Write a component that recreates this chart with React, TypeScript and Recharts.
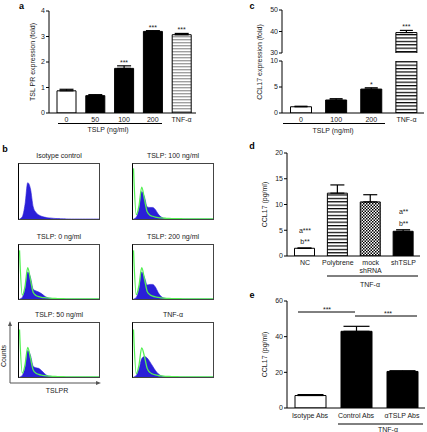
import {
  Area,
  Bar,
  Cell,
  ComposedChart,
  ErrorBar,
  LabelList,
  Line,
  XAxis,
  YAxis,
} from 'recharts';

// panel a: TSLPR expression (fold)
const aCategories = ['0', '50', '100', '200', 'TNF-α'];
const aValues = [0.87, 0.68, 1.75, 3.2, 3.07];
const aErrors = [0.06, 0.04, 0.1, 0.03, 0.05];
const aStars = ['', '', '***', '***', '***'];

// panel c: CCL17 expression (fold), broken axis
const cCategories = ['0', '100', '200', 'TNF-α'];
const cValues = [1.2, 2.5, 4.6, 39.5];
const cErrors = [0.1, 0.25, 0.25, 1.0];
const cStars = ['', '', '*', '***'];

// panel d: CCL17 (pg/ml), shRNA
const dCategories = ['NC', 'Polybrene', 'mock\nshRNA', 'shTSLP'];
const dValues = [1.5, 12.2, 10.5, 4.8];
const dErrors = [0.05, 1.6, 1.4, 0.3];
const dNotes = ['a***\nb**', '', '', 'a**\nb**'];

// panel e: CCL17 (pg/ml), antibodies
const eCategories = ['Isotype Abs', 'Control Abs', 'αTSLP Abs'];
const eValues = [7, 43, 20.5];
const eErrors = [0.5, 2.8, 0.4];
const eNotes = ['', '', ''];

// panel b: flow histograms (counts per channel bin)
const isoBlue = [0, 4, 26, 66, 55, 22, 12, 7.5, 5, 3.5, 2.5, 2, 1.5, 1, 0.7, 0.5, 0.3, 0.2, 0.1, 0, 0, 0, 0, 0, 0, 0, 0, 0, 0, 0];
const ng0Blue = [0, 3, 18, 50, 40, 18, 15, 13, 10, 6, 3, 1.5, 0.8, 0.4, 0.2, 0, 0, 0, 0, 0, 0, 0, 0, 0, 0, 0, 0, 0, 0, 0];
const ng0Green = [90, 7, 23, 58, 36, 12, 6.5, 4.5, 3.2, 2.4, 1.9, 1.5, 1.2, 1, 0.8, 0.6, 0.5, 0.4, 0.3, 0.2, 0.1, 0, 0, 0, 0, 0, 0, 0, 0, 0];
const ng50Blue = [0, 3, 17, 49, 40, 20, 17, 16, 12, 7, 3, 1.5, 0.8, 0.4, 0.2, 0, 0, 0, 0, 0, 0, 0, 0, 0, 0, 0, 0, 0, 0, 0];
const ng50Green = [88, 7, 22, 55, 35, 13, 7, 4.8, 3.4, 2.5, 2, 1.6, 1.2, 1, 0.8, 0.6, 0.5, 0.4, 0.3, 0.2, 0.1, 0, 0, 0, 0, 0, 0, 0, 0, 0];
const ng100Blue = [0, 3, 18, 50, 40, 22, 21, 21, 17, 9, 4, 1.5, 0.8, 0.4, 0.2, 0, 0, 0, 0, 0, 0, 0, 0, 0, 0, 0, 0, 0, 0, 0];
const ng100Green = [92, 8, 24, 58, 36, 13, 7, 5, 3.5, 2.6, 2, 1.6, 1.3, 1, 0.8, 0.7, 0.6, 0.5, 0.4, 0.3, 0.2, 0.2, 0.1, 0, 0, 0, 0, 0, 0, 0];
const ng200Blue = [0, 3, 18, 50, 40, 26, 27, 27, 22, 12, 5, 2, 1, 0.5, 0.2, 0, 0, 0, 0, 0, 0, 0, 0, 0, 0, 0, 0, 0, 0, 0];
const ng200Green = [90, 8, 25, 58, 37, 14, 8, 5.5, 4, 3, 2.2, 1.7, 1.3, 1, 0.8, 0.7, 0.6, 0.5, 0.4, 0.3, 0.2, 0.1, 0, 0, 0, 0, 0, 0, 0, 0];
const tnfBlue = [0, 3, 15, 34, 38, 35, 28, 20, 12, 6, 2.5, 1, 0.5, 0.2, 0, 0, 0, 0, 0, 0, 0, 0, 0, 0, 0, 0, 0, 0, 0, 0];
const tnfGreen = [88, 6, 22, 54, 38, 16, 8.5, 5.5, 3.8, 2.8, 2.1, 1.6, 1.2, 1, 0.8, 0.6, 0.5, 0.4, 0.3, 0.2, 0.1, 0, 0, 0, 0, 0, 0, 0, 0, 0];

const TEXT = '#1a1a1a';
const FONT = 7;
const BLUE = '#2a1fd8';
const GREEN = '#54f054';

interface Row {
  name: string;
  value: number | null;
  err?: [number, number];
  top: number | null;
  note: string;
}

// rows for one chart; values below `min` are left out, error bars/notes above `max` too
function buildRows(
  names: string[],
  values: number[],
  errors: number[],
  notes: string[],
  min = -Infinity,
  max = Infinity,
): Row[] {
  return names.map((name, i) => {
    const v = values[i];
    const shown = v >= min;
    const top = v + errors[i];
    const capShown = shown && top <= max;
    return {
      name,
      value: shown ? v : null,
      err: capShown ? [0, errors[i]] : undefined,
      top: capShown ? top : null,
      note: capShown ? notes[i] : '',
    };
  });
}

function makeNoteRenderer(lift: number) {
  return (props: any) => {
    const { x, y, value } = props;
    if (!value || x == null || y == null) return null;
    const lines = String(value).split('\n');
    return (
      <text x={x} y={y - lift} textAnchor="middle" fontSize={FONT} fill={TEXT}>
        {lines.map((line, i) => (
          <tspan key={i} x={x} dy={i === 0 ? -(lines.length - 1) * 11.5 : 11.5}>
            {line}
          </tspan>
        ))}
      </text>
    );
  };
}

function renderCategoryTick(props: any) {
  const { x, y, payload } = props;
  const lines = String(payload.value).split('\n');
  return (
    <text x={x} y={y} textAnchor="middle" fontSize={FONT} fill={TEXT}>
      {lines.map((line, i) => (
        <tspan key={i} x={x} dy={i === 0 ? '0.71em' : 8}>
          {line}
        </tspan>
      ))}
    </text>
  );
}

interface BarPanelProps {
  left: number;
  top: number;
  width: number;
  height: number;
  margin: { top: number; right: number; bottom: number; left: number };
  rows: Row[];
  fills: string[];
  domain: [number, number];
  ticks: number[];
  barSize: number;
  capWidth: number;
  padLeft: number;
  xHeight?: number;
  tickGap?: number;
  hideX?: boolean;
  yLabel?: string;
  yLabelOffset?: number;
  noteLift?: number;
}

function BarPanel(p: BarPanelProps) {
  return (
    <div style={{ position: 'absolute', left: p.left, top: p.top }}>
      <ComposedChart width={p.width} height={p.height} data={p.rows} margin={p.margin}>
        <XAxis
          dataKey="name"
          hide={p.hideX}
          height={p.xHeight ?? 12}
          padding={{ left: p.padLeft, right: 0 }}
          axisLine={{ stroke: '#000' }}
          tickLine={false}
          tickSize={2}
          tickMargin={p.tickGap ?? 2}
          interval={0}
          tick={renderCategoryTick}
        />
        <YAxis
          width={30}
          domain={p.domain}
          ticks={p.ticks}
          allowDataOverflow
          interval={0}
          axisLine={{ stroke: '#000' }}
          tickLine={{ stroke: '#000' }}
          tickSize={3}
          tickMargin={1}
          tick={{ fontSize: FONT, fill: TEXT }}
          label={
            p.yLabel
              ? {
                  value: p.yLabel,
                  angle: -90,
                  position: 'insideLeft',
                  offset: p.yLabelOffset ?? 10,
                  style: { textAnchor: 'middle', fontSize: FONT, fill: TEXT },
                }
              : undefined
          }
        />
        <Bar dataKey="value" barSize={p.barSize} stroke="#000" strokeWidth={1} isAnimationActive={false}>
          {p.rows.map((r, i) => (
            <Cell key={r.name} fill={p.fills[i]} />
          ))}
          <ErrorBar dataKey="err" width={p.capWidth} stroke="#000" strokeWidth={1.2} direction="y" />
        </Bar>
        <Line
          dataKey="top"
          stroke="none"
          dot={false}
          activeDot={false}
          legendType="none"
          isAnimationActive={false}
        >
          <LabelList dataKey="note" content={makeNoteRenderer(p.noteLift ?? 1)} />
        </Line>
      </ComposedChart>
    </div>
  );
}

interface HistogramProps {
  left: number;
  top: number;
  height: number;
  title: string;
  blue: number[];
  green?: number[];
}

function Histogram({ left, top, height, title, blue, green }: HistogramProps) {
  const rows = blue.map((b, i) => ({ bin: i, blue: b, green: green ? green[i] : undefined }));
  return (
    <>
      <div
        style={{
          position: 'absolute',
          left: left - 20,
          width: 122,
          top: top - 12,
          fontSize: FONT,
          lineHeight: '10px',
          textAlign: 'center',
        }}
      >
        {title}
      </div>
      <div style={{ position: 'absolute', left, top }}>
        <ComposedChart width={82} height={height} data={rows} margin={{ top: 1, right: 1, bottom: 1, left: 1.5 }}>
          <XAxis dataKey="bin" type="number" domain={[0, 29]} hide />
          <YAxis hide domain={[0, 100]} />
          <Area
            type="monotone"
            dataKey="blue"
            stroke={BLUE}
            strokeWidth={0.6}
            fill={BLUE}
            fillOpacity={1}
            isAnimationActive={false}
          />
          {green && (
            <Line
              type="monotone"
              dataKey="green"
              stroke={GREEN}
              strokeWidth={1.3}
              dot={false}
              isAnimationActive={false}
            />
          )}
        </ComposedChart>
      </div>
      <div
        style={{
          position: 'absolute',
          left,
          top,
          width: 82,
          height,
          boxSizing: 'border-box',
          border: '1px solid #444',
          borderLeft: '1.5px solid #000',
        }}
      />
    </>
  );
}

function PatternDefs() {
  return (
    <svg width={0} height={0} style={{ position: 'absolute' }}>
      <defs>
        <pattern id="stripesGray" width={4} height={3} patternUnits="userSpaceOnUse">
          <rect width={4} height={3} fill="#fff" />
          <rect width={4} height={1.4} fill="#a0a0a0" />
        </pattern>
        <pattern id="stripesBlack" width={4} height={3.4} patternUnits="userSpaceOnUse">
          <rect width={4} height={3.4} fill="#fff" />
          <rect width={4} height={1.2} fill="#000" />
        </pattern>
        <pattern id="checker" width={3} height={3} patternUnits="userSpaceOnUse">
          <rect width={3} height={3} fill="#fff" />
          <rect width={1.5} height={1.5} fill="#000" />
          <rect x={1.5} y={1.5} width={1.5} height={1.5} fill="#000" />
        </pattern>
      </defs>
    </svg>
  );
}

function Annotations() {
  const line = { stroke: '#000', strokeWidth: 1 };
  return (
    <svg
      width={427}
      height={432}
      style={{ position: 'absolute', left: 0, top: 0, pointerEvents: 'none' }}
    >
      <g fontWeight="bold" fontSize={9} fill="#000" textAnchor="middle">
        <text x={21.5} y={8.5}>a</text>
        <text x={5} y={151.5}>b</text>
        <text x={252} y={8.5}>c</text>
        <text x={252} y={148.5}>d</text>
        <text x={252} y={298}>e</text>
      </g>
      <g fontSize={FONT} fill={TEXT} textAnchor="middle">
        {/* a */}
        <line x1={58} y1={123.5} x2={162} y2={123.5} {...line} />
        <text x={108} y={132}>TSLP (ng/ml)</text>
        {/* c */}
        <line x1={283} y1={123.5} x2={385} y2={123.5} {...line} />
        <text x={333} y={132.5}>TSLP (ng/ml)</text>
        <text transform="rotate(-90 260 62)" x={260} y={62} dy="0.35em">
          CCL17 expression (fold)
        </text>
        {/* d */}
        <line x1={327} y1={276} x2={418} y2={276} {...line} />
        <text x={370} y={286.5}>TNF-α</text>
        {/* e */}
        <line x1={298} y1={312} x2={355} y2={312} {...line} />
        <text x={327} y={311.5}>***</text>
        <line x1={355} y1={316} x2={417} y2={316} {...line} />
        <text x={388} y={315.5}>***</text>
        <line x1={338} y1={424} x2={423} y2={424} {...line} />
        <text x={388} y={431.5}>TNF-α</text>
        {/* b axes */}
        <line x1={10} y1={383} x2={10} y2={325} stroke="#555" strokeWidth={1} />
        <polygon points="10,321 8,326 12,326" fill="#555" />
        <line x1={10} y1={383} x2={97} y2={383} stroke="#555" strokeWidth={1} />
        <polygon points="101,383 96,381 96,385" fill="#555" />
        <text transform="rotate(-90 4 356)" x={4} y={356} dy="0.35em">
          Counts
        </text>
        <text x={57} y={393}>TSLPR</text>
      </g>
    </svg>
  );
}

export default function App() {
  const aRows = buildRows(aCategories, aValues, aErrors, aStars);
  const cUpperRows = buildRows(cCategories, cValues, cErrors, cStars, 30, 50);
  const cLowerRows = buildRows(cCategories, cValues, cErrors, cStars, 0, 10);
  const dRows = buildRows(dCategories, dValues, dErrors, dNotes);
  const eRows = buildRows(eCategories, eValues, eErrors, eNotes);

  const aFills = ['#fff', '#000', '#000', '#000', 'url(#stripesGray)'];
  const cFills = ['#fff', '#000', '#000', 'url(#stripesBlack)'];
  const dFills = ['#fff', 'url(#stripesBlack)', 'url(#checker)', '#000'];
  const eFills = ['#fff', '#000', '#000'];

  return (
    <div
      style={{
        position: 'absolute',
        left: 0,
        top: 0,
        width: 427,
        height: 432,
        overflow: 'hidden',
        background: '#fff',
        color: TEXT,
        fontFamily: '"Liberation Sans", Arial, sans-serif',
      }}
    >
      <PatternDefs />

      <BarPanel
        left={0}
        top={0}
        width={200}
        height={128}
        margin={{ top: 11, right: 4, bottom: 3, left: 19 }}
        rows={aRows}
        fills={aFills}
        domain={[0, 4]}
        ticks={[0, 1, 2, 3, 4]}
        barSize={19}
        capWidth={7}
        padLeft={3}
        yLabel="TSL PR expression (fold)"
        yLabelOffset={14}
      />

      <BarPanel
        left={210}
        top={0}
        width={217}
        height={128}
        margin={{ top: 61, right: 3, bottom: 3, left: 42 }}
        rows={cLowerRows}
        fills={cFills}
        domain={[0, 10]}
        ticks={[0, 5, 10]}
        barSize={21}
        capWidth={6.5}
        padLeft={1.5}
      />
      <BarPanel
        left={210}
        top={0}
        width={217}
        height={128}
        margin={{ top: 10, right: 3, bottom: 75, left: 42 }}
        rows={cUpperRows}
        fills={cFills}
        domain={[30, 50]}
        ticks={[30, 40, 50]}
        barSize={21}
        capWidth={6.5}
        padLeft={1.5}
        hideX
      />

      <BarPanel
        left={210}
        top={140}
        width={217}
        height={140}
        margin={{ top: 13, right: 7, bottom: 4, left: 47 }}
        rows={dRows}
        fills={dFills}
        domain={[0, 20]}
        ticks={[0, 5, 10, 15, 20]}
        barSize={20}
        capWidth={7}
        padLeft={1.5}
        xHeight={20}
        yLabel="CCL17 (pg/ml)"
        yLabelOffset={8}
        noteLift={4}
      />

      <BarPanel
        left={210}
        top={290}
        width={217}
        height={142}
        margin={{ top: 11, right: 2, bottom: 12, left: 47 }}
        rows={eRows}
        fills={eFills}
        domain={[0, 60]}
        ticks={[0, 20, 40, 60]}
        barSize={31}
        capWidth={13}
        padLeft={0}
        tickGap={3.5}
        yLabel="CCL17 (pg/ml)"
        yLabelOffset={8}
      />

      <Histogram left={18} top={163} height={57} title="Isotype control" blue={isoBlue} />
      <Histogram left={132} top={163} height={57} title="TSLP: 100 ng/ml" blue={ng100Blue} green={ng100Green} />
      <Histogram left={18} top={244} height={56} title="TSLP: 0 ng/ml" blue={ng0Blue} green={ng0Green} />
      <Histogram left={132} top={244} height={56} title="TSLP: 200 ng/ml" blue={ng200Blue} green={ng200Green} />
      <Histogram left={18} top={322} height={56} title="TSLP: 50 ng/ml" blue={ng50Blue} green={ng50Green} />
      <Histogram left={132} top={322} height={56} title="TNF-α" blue={tnfBlue} green={tnfGreen} />

      <Annotations />
    </div>
  );
}
